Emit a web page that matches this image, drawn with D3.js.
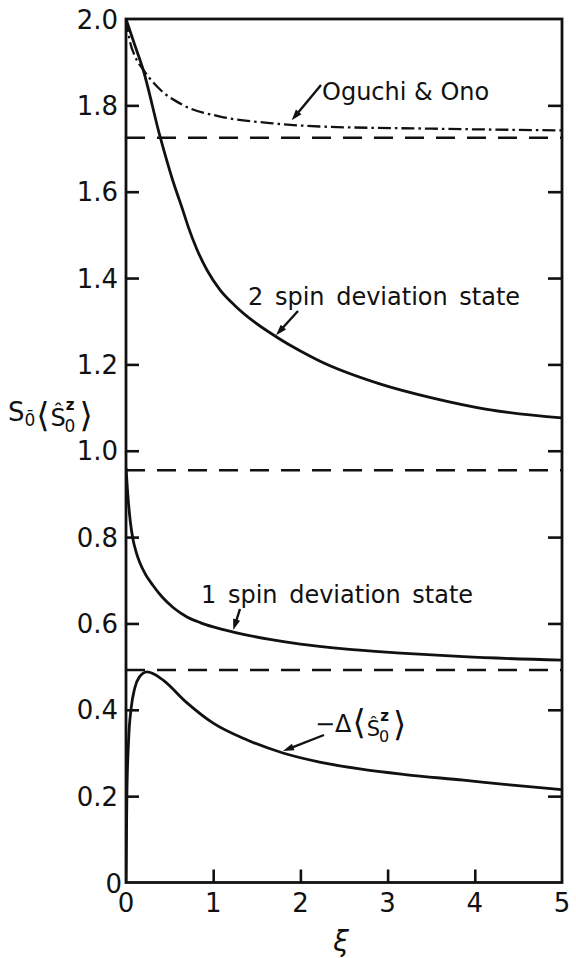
<!DOCTYPE html>
<html>
<head>
<meta charset="utf-8">
<script src="https://cdn.jsdelivr.net/npm/d3@7/dist/d3.min.js"></script>
<style>
  html, body { margin: 0; padding: 0; background: #fff; }
  svg { display: block; }
  text { font-family: "DejaVu Sans", sans-serif; fill: #111; }
</style>
</head>
<body>
<svg id="chart" width="576" height="958"></svg>
<script>
// ξ values and S0^- <S0^z> for each curve
const twoSpinXi  = [0, 0.1, 0.19, 0.39, 0.53, 0.655, 0.72, 0.81, 0.93, 1.08, 1.25, 1.46, 1.73, 2.0, 2.22, 2.91, 3.52, 4.14, 5];
const twoSpinVal = [2.0, 1.94, 1.887, 1.728, 1.63, 1.555, 1.515, 1.468, 1.418, 1.372, 1.336, 1.300, 1.263, 1.231, 1.208, 1.155, 1.122, 1.096, 1.076];

const oguchiXi  = [0, 0.05, 0.1, 0.2, 0.4, 0.65, 1.08, 1.65, 2.22, 3.5, 5];
const oguchiVal = [2.0, 1.944, 1.915, 1.882, 1.835, 1.801, 1.774, 1.759, 1.751, 1.746, 1.742];

const oneSpinXi  = [0, 0.02, 0.05, 0.08, 0.12, 0.16, 0.22, 0.31, 0.42, 0.54, 0.7, 0.85, 1.0, 1.23, 1.65, 2.0, 2.5, 3.1, 3.87, 5];
const oneSpinVal = [0.96, 0.90, 0.835, 0.795, 0.763, 0.74, 0.715, 0.688, 0.66, 0.637, 0.615, 0.602, 0.592, 0.580, 0.563, 0.552, 0.541, 0.532, 0.523, 0.515];

const deltaXi  = [0, 0.01, 0.03, 0.06, 0.1, 0.15, 0.24, 0.33, 0.43, 0.7, 1.0, 1.39, 1.8, 2.22, 2.68, 3.2, 3.87, 4.4, 5];
const deltaVal = [0, 0.2, 0.33, 0.405, 0.45, 0.475, 0.488, 0.482, 0.468, 0.416, 0.369, 0.330, 0.300, 0.279, 0.263, 0.250, 0.237, 0.226, 0.215];

// horizontal limits (dashed lines)
const limitVals = [1.725, 0.955, 0.492];

const xTicks = [0, 1, 2, 3, 4, 5];
const yTicks = [0, 0.2, 0.4, 0.6, 0.8, 1.0, 1.2, 1.4, 1.6, 1.8, 2.0];
const yTickLabels = ["0", "0.2", "0.4", "0.6", "0.8", "1.0", "1.2", "1.4", "1.6", "1.8", "2.0"];

const svg = d3.select("#chart");
const plotL = 126, plotR = 562, plotT = 19, plotB = 882.5;

const x = d3.scaleLinear().domain([0, 5]).range([plotL, plotR]);
const y = d3.scaleLinear().domain([0, 2]).range([plotB, plotT]);

svg.append("defs").append("clipPath").attr("id", "plot")
  .append("rect").attr("x", plotL).attr("y", plotT - 2)
  .attr("width", plotR - plotL).attr("height", plotB - plotT + 2);

const line = d3.line().x(d => x(d[0])).y(d => y(d[1])).curve(d3.curveMonotoneX);
const zip = (a, b) => a.map((v, i) => [v, b[i]]);

const plot = svg.append("g").attr("clip-path", "url(#plot)");

// dashed asymptotes
plot.selectAll("line.limit").data(limitVals).enter().append("line")
  .attr("class", "limit")
  .attr("x1", x(0)).attr("x2", x(5))
  .attr("y1", d => y(d)).attr("y2", d => y(d))
  .attr("stroke", "#111").attr("stroke-width", 2.5)
  .attr("stroke-dasharray", "19 12");

// Oguchi & Ono (dash-dot)
plot.append("path").datum(zip(oguchiXi, oguchiVal))
  .attr("d", line).attr("fill", "none")
  .attr("stroke", "#111").attr("stroke-width", 2.3)
  .attr("stroke-dasharray", "13 4 2.5 4");

// solid curves
[[twoSpinXi, twoSpinVal], [oneSpinXi, oneSpinVal], [deltaXi, deltaVal]].forEach(([xs, vs]) => {
  plot.append("path").datum(zip(xs, vs))
    .attr("d", line).attr("fill", "none")
    .attr("stroke", "#111").attr("stroke-width", 2.8)
    .attr("stroke-linejoin", "round");
});

// frame
svg.append("rect").attr("x", plotL).attr("y", plotT)
  .attr("width", plotR - plotL).attr("height", plotB - plotT)
  .attr("fill", "none").attr("stroke", "#111").attr("stroke-width", 2.8);

// axes with inward ticks
const innerY = yTicks.filter(v => v > 0 && v < 2);
svg.append("g").attr("transform", `translate(${plotL},0)`)
  .call(d3.axisRight(y).tickValues(innerY).tickSize(13).tickFormat(""))
  .call(g => g.select(".domain").remove())
  .call(g => g.selectAll("line").attr("stroke", "#111").attr("stroke-width", 2.6));
svg.append("g").attr("transform", `translate(${plotR},0)`)
  .call(d3.axisLeft(y).tickValues(innerY).tickSize(14).tickFormat(""))
  .call(g => g.select(".domain").remove())
  .call(g => g.selectAll("line").attr("stroke", "#111").attr("stroke-width", 2.6));
svg.append("g").attr("transform", `translate(0,${plotB})`)
  .call(d3.axisTop(x).tickValues(xTicks.filter(v => v > 0 && v < 5)).tickSize(13).tickFormat(""))
  .call(g => g.select(".domain").remove())
  .call(g => g.selectAll("line").attr("stroke", "#111").attr("stroke-width", 2.6));

// tick labels
svg.selectAll("text.ylab").data(yTicks).enter().append("text")
  .attr("class", "ylab")
  .attr("x", d => d === 0 ? 122 : 118)
  .attr("y", d => d === 0 ? 893 : y(d) + 9.5)
  .attr("text-anchor", "end").attr("font-size", 26)
  .text((d, i) => yTickLabels[i]);

svg.selectAll("text.xlab").data(xTicks).enter().append("text")
  .attr("class", "xlab")
  .attr("x", d => x(d)).attr("y", 912)
  .attr("text-anchor", "middle").attr("font-size", 26)
  .text(d => d);

// x axis title
svg.append("text").attr("x", 341).attr("y", 951)
  .attr("text-anchor", "middle").attr("font-size", 28).attr("font-style", "italic")
  .text("ξ");

// y axis title  S0^- <Ŝ0^z>
const yt = svg.append("text").attr("x", 8).attr("y", 421);
yt.append("tspan").attr("font-size", 26).text("S");
yt.append("tspan").attr("font-size", 17).attr("dy", 5).text("0\u0304");
yt.append("tspan").attr("font-size", 34).attr("dy", 1).attr("dx", 1).text("⟨");
yt.append("tspan").attr("font-size", 24).attr("dy", -1).attr("dx", 1).text("Ŝ");
yt.append("tspan").attr("font-size", 15).attr("font-weight", "bold").attr("dy", -16).attr("dx", 0).text("z");
yt.append("tspan").attr("font-size", 17).attr("dy", 22).attr("dx", -10).text("0");
yt.append("tspan").attr("font-size", 34).attr("dy", -5).attr("dx", 4).text("⟩");

// curve labels with pointer arrows
function arrow(x1, y1, x2, y2) {
  const a = Math.atan2(y2 - y1, x2 - x1), L = 11, W = 3.6;
  svg.append("line").attr("x1", x1).attr("y1", y1)
    .attr("x2", x2 - Math.cos(a) * 6).attr("y2", y2 - Math.sin(a) * 6)
    .attr("stroke", "#111").attr("stroke-width", 2.4);
  const bx = x2 - Math.cos(a) * L, by = y2 - Math.sin(a) * L;
  const px = -Math.sin(a) * W, py = Math.cos(a) * W;
  svg.append("path")
    .attr("d", `M${x2},${y2}L${bx + px},${by + py}L${bx - px},${by - py}Z`)
    .attr("fill", "#111");
}

svg.append("text").attr("x", 322).attr("y", 100).attr("font-size", 24).text("Oguchi & Ono");
arrow(321, 85, x(1.9), y(1.756) - 4);

svg.append("text").attr("x", 248).attr("y", 305).attr("font-size", 24)
  .attr("word-spacing", 4).text("2 spin deviation state");
arrow(298, 311, x(1.72), y(1.263) - 2);

svg.append("text").attr("x", 201).attr("y", 603).attr("font-size", 24)
  .attr("word-spacing", 4).text("1 spin deviation state");
arrow(240, 609, x(1.23), y(0.580) - 2);

const dl = svg.append("text").attr("x", 315).attr("y", 732);
dl.append("tspan").attr("font-size", 24).text("−Δ");
dl.append("tspan").attr("font-size", 34).attr("dy", 2).attr("dx", 1).text("⟨");
dl.append("tspan").attr("font-size", 21).attr("dy", 2).attr("dx", 1).text("Ŝ");
dl.append("tspan").attr("font-size", 15).attr("font-weight", "bold").attr("dy", -15).text("z");
dl.append("tspan").attr("font-size", 16).attr("dy", 21).attr("dx", -10).text("0");
dl.append("tspan").attr("font-size", 34).attr("dy", -6).attr("dx", 4).text("⟩");
arrow(324, 735, x(1.8), y(0.300) - 2);
</script>
</body>
</html>
